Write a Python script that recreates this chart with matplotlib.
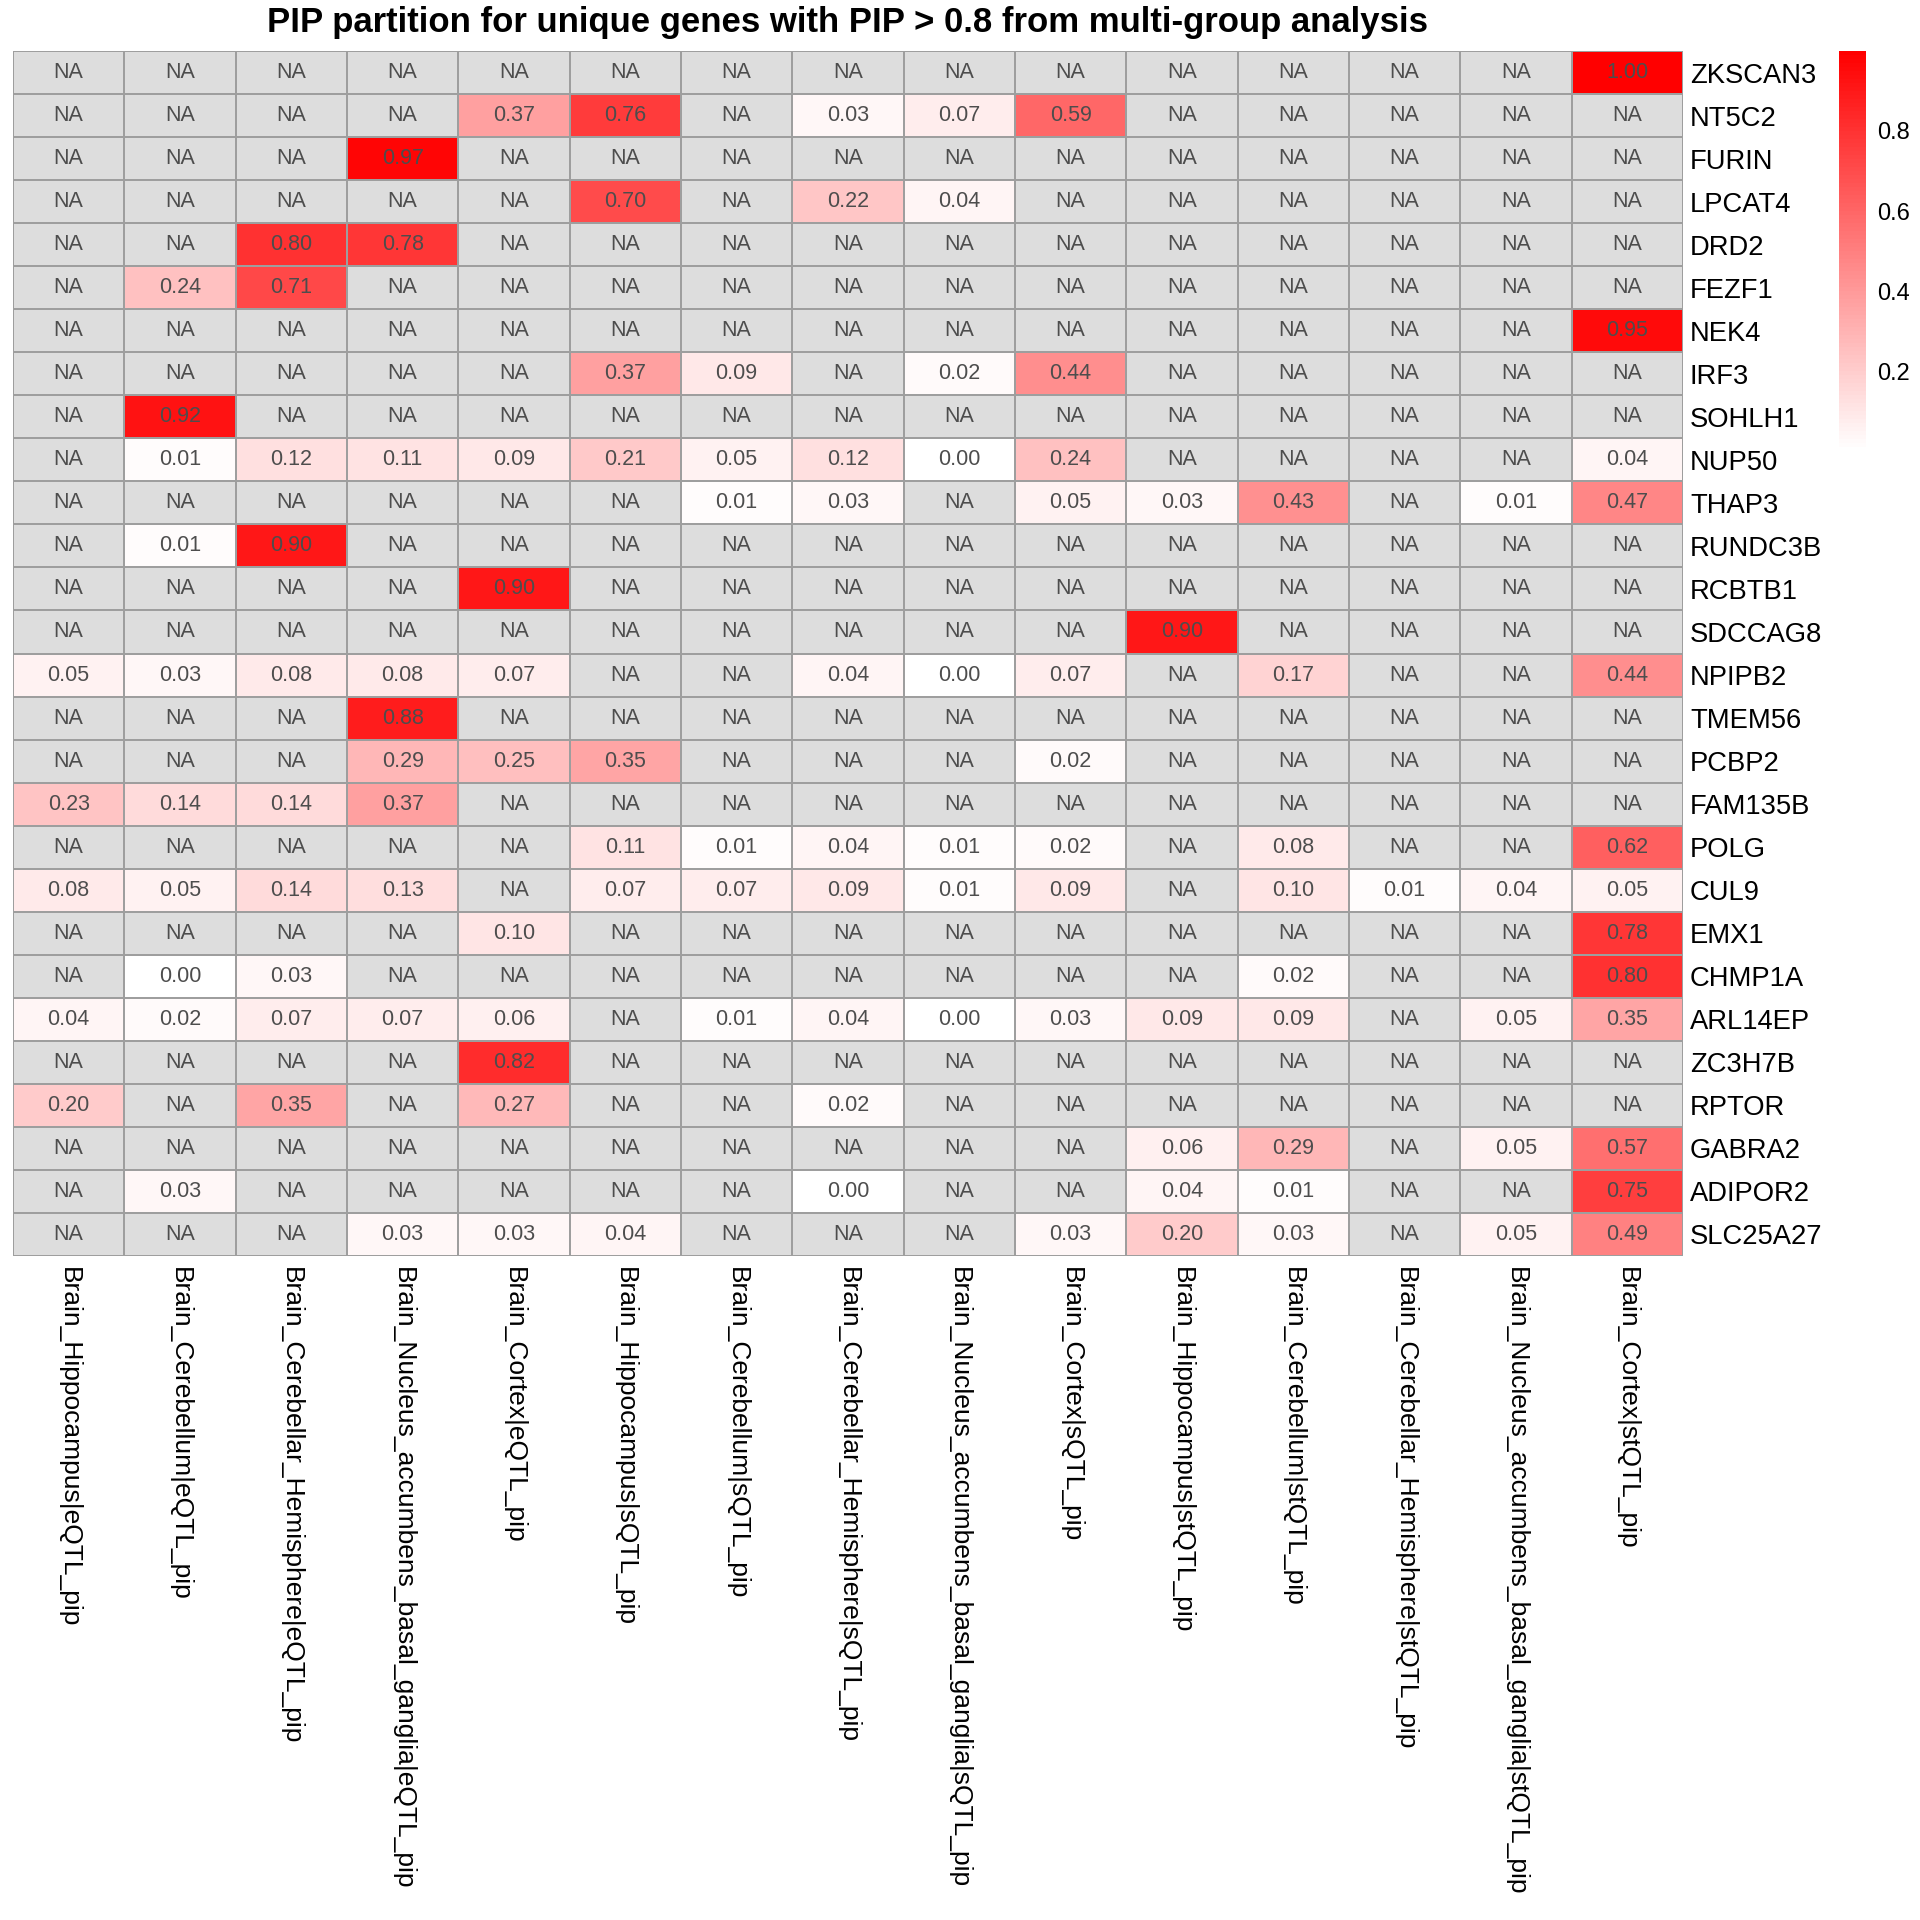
import numpy as np
import matplotlib
matplotlib.use("Agg")
import matplotlib.pyplot as plt
from matplotlib.colors import LinearSegmentedColormap, Normalize
from matplotlib.cm import ScalarMappable

plt.rcParams['font.family'] = ['Liberation Sans', 'DejaVu Sans']

genes = ["ZKSCAN3", "NT5C2", "FURIN", "LPCAT4", "DRD2", "FEZF1", "NEK4", "IRF3",
         "SOHLH1", "NUP50", "THAP3", "RUNDC3B", "RCBTB1", "SDCCAG8", "NPIPB2",
         "TMEM56", "PCBP2", "FAM135B", "POLG", "CUL9", "EMX1", "CHMP1A", "ARL14EP",
         "ZC3H7B", "RPTOR", "GABRA2", "ADIPOR2", "SLC25A27"]

columns = ["Brain_Hippocampus|eQTL_pip", "Brain_Cerebellum|eQTL_pip",
           "Brain_Cerebellar_Hemisphere|eQTL_pip",
           "Brain_Nucleus_accumbens_basal_ganglia|eQTL_pip",
           "Brain_Cortex|eQTL_pip", "Brain_Hippocampus|sQTL_pip",
           "Brain_Cerebellum|sQTL_pip", "Brain_Cerebellar_Hemisphere|sQTL_pip",
           "Brain_Nucleus_accumbens_basal_ganglia|sQTL_pip",
           "Brain_Cortex|sQTL_pip", "Brain_Hippocampus|stQTL_pip",
           "Brain_Cerebellum|stQTL_pip", "Brain_Cerebellar_Hemisphere|stQTL_pip",
           "Brain_Nucleus_accumbens_basal_ganglia|stQTL_pip",
           "Brain_Cortex|stQTL_pip"]

N = None
values = [
    [N, N, N, N, N, N, N, N, N, N, N, N, N, N, 1.00],                     # ZKSCAN3
    [N, N, N, N, 0.37, 0.76, N, 0.03, 0.07, 0.59, N, N, N, N, N],         # NT5C2
    [N, N, N, 0.97, N, N, N, N, N, N, N, N, N, N, N],                     # FURIN
    [N, N, N, N, N, 0.70, N, 0.22, 0.04, N, N, N, N, N, N],               # LPCAT4
    [N, N, 0.80, 0.78, N, N, N, N, N, N, N, N, N, N, N],                  # DRD2
    [N, 0.24, 0.71, N, N, N, N, N, N, N, N, N, N, N, N],                  # FEZF1
    [N, N, N, N, N, N, N, N, N, N, N, N, N, N, 0.95],                     # NEK4
    [N, N, N, N, N, 0.37, 0.09, N, 0.02, 0.44, N, N, N, N, N],            # IRF3
    [N, 0.92, N, N, N, N, N, N, N, N, N, N, N, N, N],                     # SOHLH1
    [N, 0.01, 0.12, 0.11, 0.09, 0.21, 0.05, 0.12, 0.00, 0.24, N, N, N, N, 0.04],  # NUP50
    [N, N, N, N, N, N, 0.01, 0.03, N, 0.05, 0.03, 0.43, N, 0.01, 0.47],   # THAP3
    [N, 0.01, 0.90, N, N, N, N, N, N, N, N, N, N, N, N],                  # RUNDC3B
    [N, N, N, N, 0.90, N, N, N, N, N, N, N, N, N, N],                     # RCBTB1
    [N, N, N, N, N, N, N, N, N, N, 0.90, N, N, N, N],                     # SDCCAG8
    [0.05, 0.03, 0.08, 0.08, 0.07, N, N, 0.04, 0.00, 0.07, N, 0.17, N, N, 0.44],  # NPIPB2
    [N, N, N, 0.88, N, N, N, N, N, N, N, N, N, N, N],                     # TMEM56
    [N, N, N, 0.29, 0.25, 0.35, N, N, N, 0.02, N, N, N, N, N],            # PCBP2
    [0.23, 0.14, 0.14, 0.37, N, N, N, N, N, N, N, N, N, N, N],            # FAM135B
    [N, N, N, N, N, 0.11, 0.01, 0.04, 0.01, 0.02, N, 0.08, N, N, 0.62],   # POLG
    [0.08, 0.05, 0.14, 0.13, N, 0.07, 0.07, 0.09, 0.01, 0.09, N, 0.10, 0.01, 0.04, 0.05],  # CUL9
    [N, N, N, N, 0.10, N, N, N, N, N, N, N, N, N, 0.78],                  # EMX1
    [N, 0.00, 0.03, N, N, N, N, N, N, N, N, 0.02, N, N, 0.80],            # CHMP1A
    [0.04, 0.02, 0.07, 0.07, 0.06, N, 0.01, 0.04, 0.00, 0.03, 0.09, 0.09, N, 0.05, 0.35],  # ARL14EP
    [N, N, N, N, 0.82, N, N, N, N, N, N, N, N, N, N],                     # ZC3H7B
    [0.20, N, 0.35, N, 0.27, N, N, 0.02, N, N, N, N, N, N, N],            # RPTOR
    [N, N, N, N, N, N, N, N, N, N, 0.06, 0.29, N, 0.05, 0.57],            # GABRA2
    [N, 0.03, N, N, N, N, N, 0.00, N, N, 0.04, 0.01, N, N, 0.75],         # ADIPOR2
    [N, N, N, 0.03, 0.03, 0.04, N, N, N, 0.03, 0.20, 0.03, N, 0.05, 0.49],  # SLC25A27
]

cbar_ticks = [0.2, 0.4, 0.6, 0.8]
title = "PIP partition for unique genes with PIP > 0.8 from multi-group analysis"

data = np.array([[np.nan if v is None else v for v in row] for row in values], dtype=float)
masked = np.ma.masked_invalid(data)

cmap = LinearSegmentedColormap.from_list("wr", ["#FFFFFF", "#FF0000"], N=100)
cmap.set_bad("#DDDDDD")
norm = Normalize(vmin=0.0, vmax=1.0)

W = H = 1920
fig = plt.figure(figsize=(19.2, 19.2), dpi=100)

hl, hr, ht, hb = 13, 1683, 51, 1256
ax = fig.add_axes([hl / W, 1 - hb / H, (hr - hl) / W, (hb - ht) / H])
nrow, ncol = data.shape
ax.pcolormesh(np.arange(ncol + 1), np.arange(nrow + 1), masked, cmap=cmap, norm=norm,
              edgecolors="#9E9E9E", linewidth=1.1)
ax.set_xlim(0, ncol)
ax.set_ylim(nrow, 0)
for s in ax.spines.values():
    s.set_visible(False)

for i in range(nrow):
    for j in range(ncol):
        v = data[i, j]
        txt = "NA" if np.isnan(v) else f"{v:.2f}"
        ax.text(j + 0.5, i + 0.5, txt, ha="center", va="center",
                fontsize=15.5, color="#4D4D4D")

ax.yaxis.tick_right()
ax.set_yticks(np.arange(nrow) + 0.5)
ax.set_yticklabels(genes, fontsize=19.7)
ax.set_xticks(np.arange(ncol) + 0.5)
ax.set_xticklabels(columns, rotation=-90, fontsize=19, ha="center", va="top")
ax.tick_params(axis="both", length=0)
ax.tick_params(axis="y", pad=5)
ax.tick_params(axis="x", pad=8)

ax.set_title(title, fontsize=25, fontweight="bold", pad=14)

cax = fig.add_axes([1839 / W, 1 - 451 / H, 27 / W, 400 / H])
cb = fig.colorbar(ScalarMappable(norm=norm, cmap=cmap), cax=cax, ticks=cbar_ticks)
cb.outline.set_visible(False)
cb.ax.tick_params(length=0, labelsize=17, pad=8)
cb.ax.set_yticklabels([f"{t:.1f}" for t in cbar_ticks])

fig.savefig("out.png", dpi=100)
